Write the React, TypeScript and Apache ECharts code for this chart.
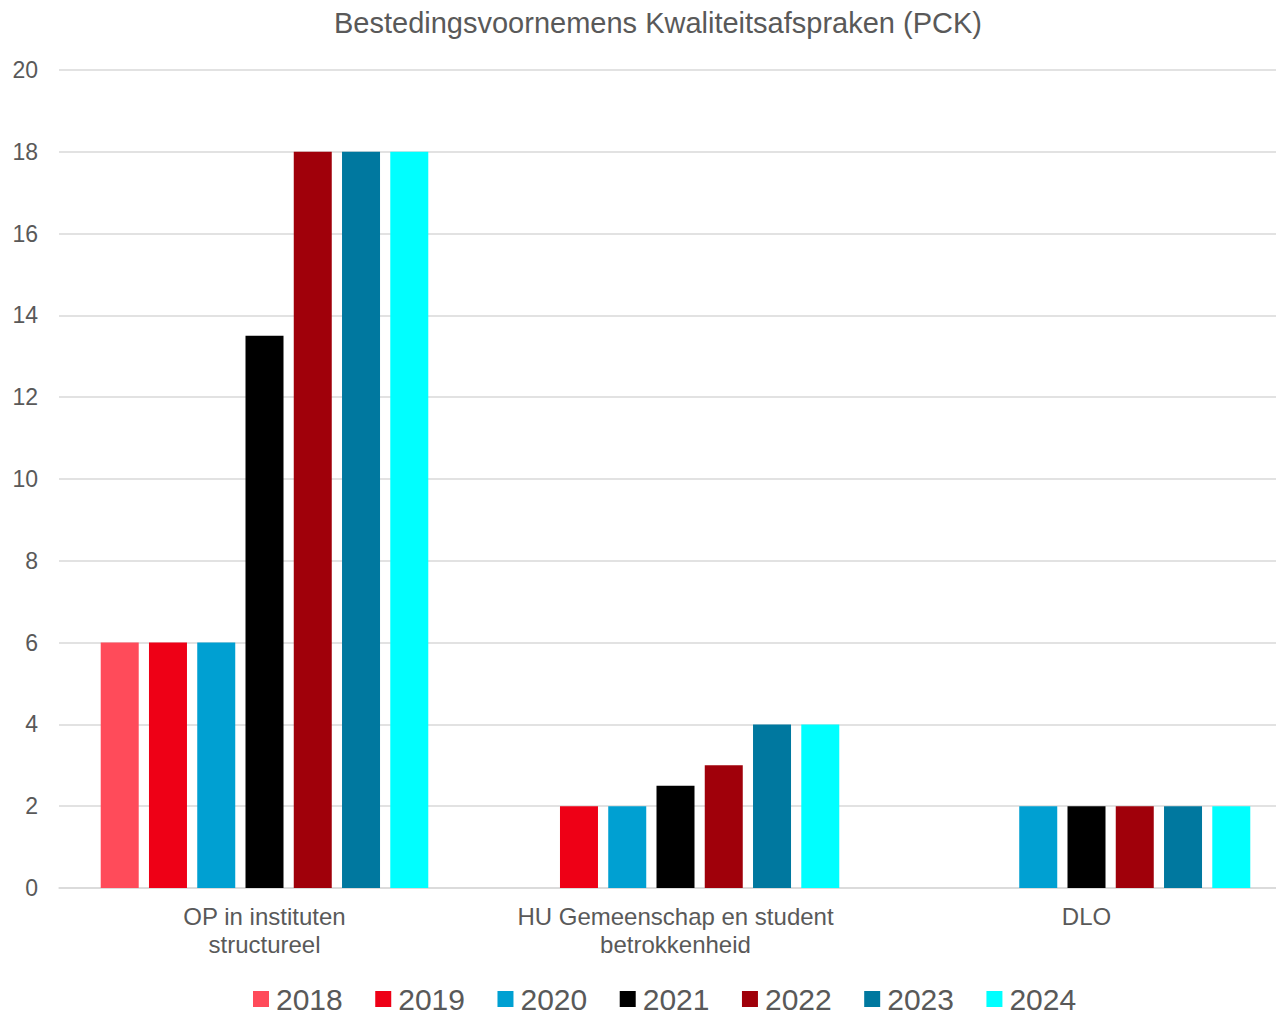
import React, { useEffect, useRef } from "react";
import * as echarts from "echarts";

const categories = ["OP in instituten\nstructureel", "HU Gemeenschap en student\nbetrokkenheid", "DLO"];
const years = ["2018", "2019", "2020", "2021", "2022", "2023", "2024"];
const colors = ["#FF4B5A", "#EE0016", "#00A0D2", "#000000", "#A0000A", "#00789F", "#00FFFF"];
const values2018 = [6, null, null];
const values2019 = [6, 2, null];
const values2020 = [6, 2, 2];
const values2021 = [13.5, 2.5, 2];
const values2022 = [18, 3, 2];
const values2023 = [18, 4, 2];
const values2024 = [18, 4, 2];
const allValues = [values2018, values2019, values2020, values2021, values2022, values2023, values2024];
const yTicks = { min: 0, max: 20, interval: 2 };

export default function App() {
  const ref = useRef<HTMLDivElement>(null);
  useEffect(() => {
    if (!ref.current) return;
    const chart = echarts.init(ref.current, null, { renderer: "svg" });
    const font = "Liberation Sans, Arial, sans-serif";
    chart.setOption({
      animation: false,
      textStyle: { fontFamily: font },
      title: {
        text: "Bestedingsvoornemens Kwaliteitsafspraken (PCK)",
        left: 329,
        top: 3,
        textStyle: { fontSize: 29, fontWeight: "normal", color: "#595959", fontFamily: font },
      },
      legend: {
        data: years,
        left: 253,
        top: 984,
        padding: 0,
        itemWidth: 16,
        itemHeight: 16,
        itemGap: 32.5,
        icon: "rect",
        textStyle: { fontSize: 30, lineHeight: 30, color: "#595959", fontFamily: font, padding: [0, 0, 0, 2] },
      },
      grid: { left: 59, top: 70, width: 1233, bottom: 127, containLabel: false },
      xAxis: {
        type: "category",
        data: categories,
        axisLine: { lineStyle: { color: "#D9D9D9", width: 1.5 } },
        axisTick: { show: false },
        axisLabel: { interval: 0, fontSize: 24, lineHeight: 28, color: "#595959", margin: 14, fontFamily: font },
      },
      yAxis: {
        type: "value",
        min: yTicks.min,
        max: yTicks.max,
        interval: yTicks.interval,
        axisLine: { show: false },
        axisTick: { show: false },
        splitLine: { lineStyle: { color: "#D9D9D9", width: 1.5 } },
        axisLabel: { fontSize: 23, color: "#595959", margin: 21, fontFamily: font },
      },
      series: years.map((y, i) => ({
        name: y,
        type: "bar",
        data: allValues[i],
        barWidth: 38,
        barGap: "27%",
        itemStyle: { color: colors[i] },
      })),
    });
    return () => chart.dispose();
  }, []);
  return (
    <div style={{ position: "absolute", left: 0, top: 0, width: 1276, height: 1015, overflow: "hidden" }}>
      <div ref={ref} style={{ width: 1300, height: 1015 }} />
    </div>
  );
}
